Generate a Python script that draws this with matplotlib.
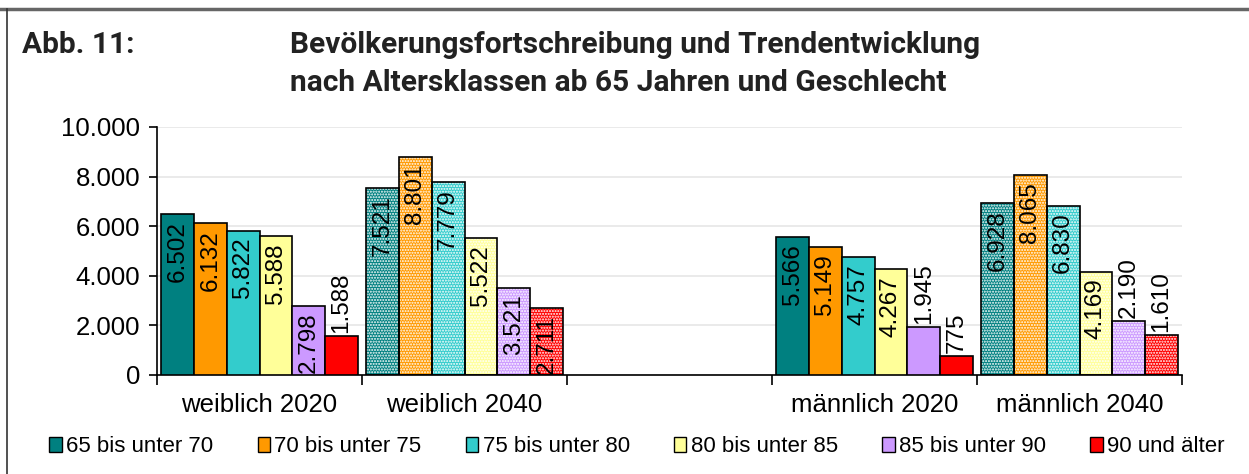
import matplotlib
matplotlib.use('Agg')
import matplotlib.pyplot as plt
from matplotlib.patches import Patch
from matplotlib.lines import Line2D

# Daten
group_labels = ['weiblich 2020', 'weiblich 2040', '', 'männlich 2020', 'männlich 2040']
group_pos = [0, 1, 3, 4]          # Slot 2 bleibt leer
group_projected = [False, True, False, True]   # 2040 = Trend (gepunktet)

age_classes = ['65 bis unter 70', '70 bis unter 75', '75 bis unter 80',
               '80 bis unter 85', '85 bis unter 90', '90 und älter']
v_65_70 = [6502, 7521, 5566, 6928]
v_70_75 = [6132, 8801, 5149, 8065]
v_75_80 = [5822, 7779, 4757, 6830]
v_80_85 = [5588, 5522, 4267, 4169]
v_85_90 = [2798, 3521, 1945, 2190]
v_90_plus = [1588, 2711, 775, 1610]
series = [v_65_70, v_70_75, v_75_80, v_80_85, v_85_90, v_90_plus]

colors = ['#008080', '#FF9900', '#33CCCC', '#FFFF99', '#CC99FF', '#FF0000']

yticks = [0, 2000, 4000, 6000, 8000, 10000]


def de_fmt(v):
    return f"{v:,.0f}".replace(',', '.')


plt.rcParams['font.family'] = ['Liberation Sans', 'DejaVu Sans']

fig = plt.figure(figsize=(12.49, 4.74), dpi=100)
ax = fig.add_axes([0.1257, 0.2089, 0.8207, 0.5232])

bw = 0.16
for j, (vals, col) in enumerate(zip(series, colors)):
    off = (j - 2.5) * bw
    for gi, (pos, v) in enumerate(zip(group_pos, vals)):
        x = pos + off
        if group_projected[gi]:
            ax.bar(x, v, width=bw, color=col, edgecolor='white', hatch='......',
                   linewidth=0, zorder=2)
            ax.bar(x, v, width=bw, fill=False, edgecolor='black', linewidth=1.2, zorder=3)
        else:
            ax.bar(x, v, width=bw, color=col, edgecolor='black', linewidth=1.2, zorder=3)
        # Beschriftung: innen oben, bei kleinen Balken darüber
        if v >= 2500:
            ax.annotate(de_fmt(v), (x, v), xytext=(0, -5), textcoords='offset points',
                        rotation=90, ha='center', va='top', fontsize=17.5, zorder=5)
        else:
            ax.annotate(de_fmt(v), (x, v), xytext=(0, 2), textcoords='offset points',
                        rotation=90, ha='center', va='bottom', fontsize=17.5, zorder=5)

ax.set_xlim(-0.5, 4.5)
ax.set_ylim(0, 10000)
ax.set_yticks(yticks)
ax.set_yticklabels([de_fmt(t) for t in yticks], fontsize=18.5)
ax.set_xticks(range(len(group_labels)))
ax.set_xticklabels(group_labels, fontsize=18.5)
ax.tick_params(axis='x', which='major', length=0, pad=13)
ax.set_xticks([i - 0.5 for i in range(len(group_labels) + 1)], minor=True)
ax.tick_params(axis='x', which='minor', length=7, width=1.2, direction='out')
ax.tick_params(axis='y', length=6, width=1.2, direction='out', pad=6)

ax.grid(axis='y', color='#e6e6e6', linewidth=1.2, zorder=0)
ax.set_axisbelow(True)
for s in ['top', 'right']:
    ax.spines[s].set_visible(False)
ax.spines['left'].set_linewidth(1.2)
ax.spines['bottom'].set_linewidth(1.2)

# Titel
title_kw = dict(fontsize=21.5, fontweight='bold', family='Roboto', color='#222222',
                va='center')
fig.text(0.018, 0.905, 'Abb. 11:', **title_kw)
fig.text(0.232, 0.905, 'Bevölkerungsfortschreibung und Trendentwicklung', **title_kw)
fig.text(0.232, 0.825, 'nach Altersklassen ab 65 Jahren und Geschlecht', **title_kw)

# Legende
handles = [Patch(facecolor=c, edgecolor='black', linewidth=1) for c in colors]
fig.legend(handles, age_classes, loc='center', bbox_to_anchor=(0.51, 0.057),
           ncol=6, frameon=False, fontsize=16, handlelength=0.55, handleheight=0.7,
           handletextpad=0.2, columnspacing=2.0)

# Rahmen
fig.add_artist(Line2D([0, 1], [0.982, 0.982], transform=fig.transFigure,
                      color='#666666', linewidth=2.5))
fig.add_artist(Line2D([0.0056, 0.0056], [0, 0.982], transform=fig.transFigure,
                      color='#333333', linewidth=1.2))

fig.savefig('out.png', dpi=100)
